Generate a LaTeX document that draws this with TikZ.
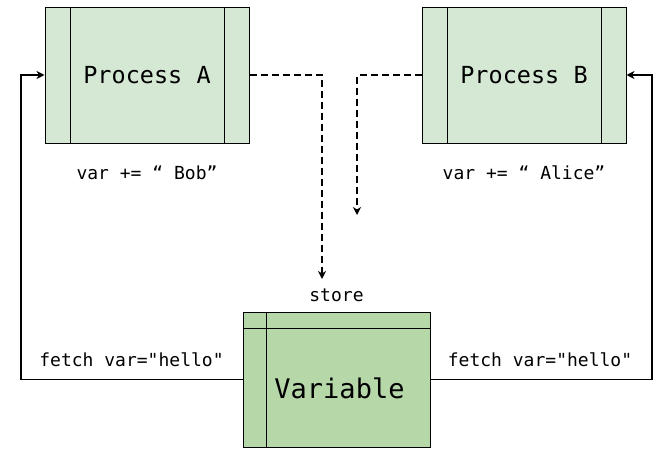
\documentclass[tikz,border=0pt]{standalone}
\usepackage{fontspec}
\setmonofont{DejaVu Sans Mono}
\usetikzlibrary{positioning,arrows.meta}
\definecolor{procgreen}{HTML}{D5E8D4}
\definecolor{vargreen}{HTML}{B6D7A8}

\begin{document}
\begin{tikzpicture}[x=1pt,y=-1pt,line width=1pt,
>={Stealth[length=8pt,width=8pt,inset=2.5pt]},
procbox/.style ={draw, fill=procgreen, minimum width=204pt,
minimum height=136pt, font=\ttfamily\fontsize{23.5}{23.5}\selectfont,
path picture={\draw ([xshift=25pt]path picture bounding box.north west)
 -- ([xshift=25pt]path picture bounding box.south west);
 \draw ([xshift=-25pt]path picture bounding box.north east)
 -- ([xshift=-25pt]path picture bounding box.south east);}},
varbox/.style ={draw, fill=vargreen, minimum width=187pt,
minimum height=135pt,
path picture={\draw ([xshift=23pt]path picture bounding box.north west)
 -- ([xshift=23pt]path picture bounding box.south west);
 \draw ([yshift=-16pt]path picture bounding box.north west)
 -- ([yshift=-16pt]path picture bounding box.north east);}},
lbl/.style ={font=\ttfamily\fontsize{18}{18}\selectfont, inner sep=0pt},
flow/.style ={->, line width=1.4pt},
storeflow/.style ={->, line width=1.4pt, dash pattern=on 7pt off 4pt}]
\useasboundingbox (0,0) rectangle (672,455);
\node[procbox] (procA) at (147,75) {Process A};
\node[procbox] (procB) at (524,75) {Process B};
\node[varbox] (var) at (336.5,379.5)
 [label={[name=vartxt, xshift=3pt, yshift=-8.5pt,
 font=\ttfamily\fontsize{27}{27}\selectfont]center:Variable}] {};
\node[lbl] (bobtxt) [below=22pt of procA.south] {var += “ Bob”};
\node[lbl] (alicetxt) [below=22pt of procB.south] {var += “ Alice”};
\node[lbl] (storetxt) [above=9pt of var.north] {store};
\node[lbl] (fetchA) at (131.5,360) {fetch var="hello"};
\node[lbl] (fetchB) at (540,360) {fetch var="hello"};
% corners and free ends
\coordinate (storeA) at (322,279);
\coordinate (storeB) at (357,215);
\coordinate (cornerL) at (21,0);
\coordinate (cornerR) at (652,0);
\draw[storeflow] (procA.east) -| (storeA);
\draw[storeflow] (procB.west) -| (storeB);
\draw[flow] (var.west) -- (var.west -| cornerL) |- (procA.west);
\draw[flow] (var.east) -- (var.east -| cornerR) |- (procB.east);
\end{tikzpicture}
\end{document}
